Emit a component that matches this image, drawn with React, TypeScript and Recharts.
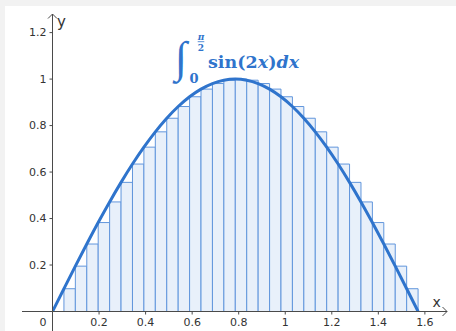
import React from 'react';
import { ComposedChart, Line, XAxis, YAxis, ReferenceArea, ReferenceLine } from 'recharts';

// Partition points of [0, π/2] (32 equal sub-intervals)
const xEdges = [
  0, 0.0491, 0.0982, 0.1473, 0.1963, 0.2454, 0.2945, 0.3436, 0.3927, 0.4418, 0.4909,
  0.54, 0.589, 0.6381, 0.6872, 0.7363, 0.7854, 0.8345, 0.8836, 0.9327, 0.9817, 1.0308,
  1.0799, 1.129, 1.1781, 1.2272, 1.2763, 1.3254, 1.3744, 1.4235, 1.4726, 1.5217, 1.5708,
];

// Curve y = sin(2x) at the partition points
const curveY = [
  0, 0.098, 0.1951, 0.2903, 0.3827, 0.4714, 0.5556, 0.6344, 0.7071, 0.773, 0.8315,
  0.8819, 0.9239, 0.9569, 0.9808, 0.9952, 1, 0.9952, 0.9808, 0.9569, 0.9239, 0.8819,
  0.8315, 0.773, 0.7071, 0.6344, 0.5556, 0.4714, 0.3827, 0.2903, 0.1951, 0.098, 0,
];

// Rectangle heights (left Riemann sum)
const barHeights = [
  0, 0.098, 0.1951, 0.2903, 0.3827, 0.4714, 0.5556, 0.6344, 0.7071, 0.773, 0.8315,
  0.8819, 0.9239, 0.9569, 0.9808, 0.9952, 1, 0.9952, 0.9808, 0.9569, 0.9239, 0.8819,
  0.8315, 0.773, 0.7071, 0.6344, 0.5556, 0.4714, 0.3827, 0.2903, 0.1951, 0.098,
];

const xTicks = [0, 0.2, 0.4, 0.6, 0.8, 1, 1.2, 1.4, 1.6];
const yTicks = [0.2, 0.4, 0.6, 0.8, 1, 1.2];

const xDomain: [number, number] = [0, 1.695];
const yDomain: [number, number] = [0, 1.28];
const xAxisStart = -0.131;
const yAxisStart = -0.09;

const curveData = xEdges.map((x, i) => ({ x, y: curveY[i] }));

const AXIS = '#4a4a4a';
const LABEL = '#333333';
const BLUE = '#2f74cc';
const BAR_FILL = '#e8f0fa';
const BAR_STROKE = '#6196dc';
const TICK_FONT = 'DejaVu Sans, Liberation Sans, sans-serif';

const XTick = (props: any) => {
  const { x, y, payload } = props;
  const dx = payload.value === 0 ? -9.5 : 0;
  return (
    <text
      x={x + dx}
      y={y}
      dy="0.71em"
      textAnchor="middle"
      fill={LABEL}
      fontSize={11}
      fontFamily={TICK_FONT}
    >
      {String(payload.value)}
    </text>
  );
};

export default function App() {
  return (
    <div
      style={{
        position: 'fixed',
        left: 0,
        top: 0,
        width: 456,
        height: 331,
        background: '#f2f2f2',
        overflow: 'hidden',
      }}
    >
      <div style={{ position: 'absolute', left: 5, top: 6, right: 0, bottom: 0, background: '#ffffff' }} />
      <svg width={0} height={0} style={{ position: 'absolute' }}>
        <defs>
          <marker
            id="axisArrow"
            viewBox="-1 -6 7 12"
            markerWidth={7}
            markerHeight={12}
            refX={4.5}
            refY={0}
            orient="auto-start-reverse"
            markerUnits="userSpaceOnUse"
          >
            <path d="M0,-4.5 L4.5,0 L0,4.5" fill="none" stroke={AXIS} strokeWidth={1} />
          </marker>
        </defs>
      </svg>
      <div style={{ position: 'absolute', left: 0, top: 0 }}>
        <ComposedChart
          width={456}
          height={331}
          data={curveData}
          margin={{ top: 14, right: 9, bottom: 0, left: 4.5 }}
        >
          <XAxis
            dataKey="x"
            type="number"
            domain={xDomain}
            ticks={xTicks}
            allowDataOverflow
            height={19.5}
            tickSize={3}
            tickMargin={4}
            tickLine={{ stroke: AXIS }}
            axisLine={{ stroke: AXIS, markerEnd: 'url(#axisArrow)' }}
            tick={<XTick />}
            interval={0}
          />
          <YAxis
            type="number"
            domain={yDomain}
            ticks={yTicks}
            allowDataOverflow
            width={48}
            tickSize={3}
            tickMargin={3}
            tickLine={{ stroke: AXIS }}
            axisLine={{ stroke: AXIS, markerStart: 'url(#axisArrow)' }}
            tick={{ fill: LABEL, fontSize: 11, fontFamily: TICK_FONT }}
            interval={0}
          />
          {barHeights.map((h, i) => (
            <ReferenceArea
              key={i}
              x1={xEdges[i]}
              x2={xEdges[i + 1]}
              y1={0}
              y2={h}
              fill={BAR_FILL}
              fillOpacity={1}
              stroke={BAR_STROKE}
              strokeWidth={1}
              ifOverflow="visible"
            />
          ))}
          <ReferenceLine
            segment={[{ x: xAxisStart, y: 0 }, { x: 0, y: 0 }]}
            stroke={AXIS}
            strokeWidth={1}
            ifOverflow="visible"
          />
          <ReferenceLine
            segment={[{ x: 0, y: yAxisStart }, { x: 0, y: 0 }]}
            stroke={AXIS}
            strokeWidth={1}
            ifOverflow="visible"
          />
          <Line
            type="monotone"
            dataKey="y"
            stroke={BLUE}
            strokeWidth={3}
            dot={false}
            activeDot={false}
            isAnimationActive={false}
          />
        </ComposedChart>
      </div>
      <svg
        width={456}
        height={331}
        style={{ position: 'absolute', left: 0, top: 0, pointerEvents: 'none' }}
      >
        <text x={57} y={26.5} fontSize={15} fill={LABEL} fontFamily={TICK_FONT}>y</text>
        <text x={432.5} y={306.5} fontSize={14} fill={LABEL} fontFamily={TICK_FONT}>x</text>
        <g fill={BLUE}>
          <text x={175} y={72} fontSize={44} fontFamily="Liberation Serif, serif">∫</text>
          <text x={194} y={83} fontSize={13} fontWeight="bold" textAnchor="middle" fontFamily="DejaVu Serif, serif">0</text>
          <text x={201} y={39.5} fontSize={9} fontWeight="bold" fontStyle="italic" textAnchor="middle" fontFamily="DejaVu Serif, serif">π</text>
          <text x={201} y={51} fontSize={9} fontWeight="bold" textAnchor="middle" fontFamily="DejaVu Serif, serif">2</text>
          <text x={208} y={68} fontSize={17.5} fontWeight="bold" fontFamily="DejaVu Serif, serif">
            sin(2<tspan fontStyle="italic">x</tspan>)<tspan fontStyle="italic">dx</tspan>
          </text>
        </g>
        <line x1={197.7} y1={41.7} x2={204.3} y2={41.7} stroke={BLUE} strokeWidth={0.8} />
      </svg>
    </div>
  );
}
